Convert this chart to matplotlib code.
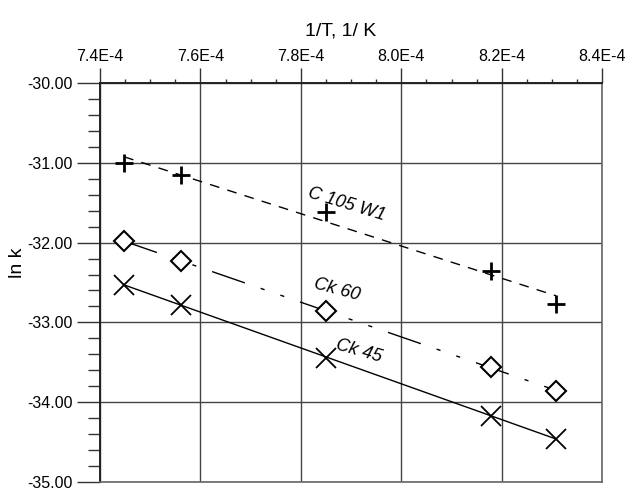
import matplotlib.pyplot as plt
import numpy as np
from matplotlib.ticker import MultipleLocator, FormatStrFormatter

plt.rcParams['font.family'] = ['Liberation Sans', 'DejaVu Sans']

# 1/T values (units of 1E-4 1/K) and ln k for each sample
inv_t = [7.448, 7.561, 7.850, 8.179, 8.308]
lnk_c105w1 = [-31.00, -31.15, -31.62, -32.35, -32.77]
lnk_ck60 = [-31.98, -32.23, -32.86, -33.56, -33.86]
lnk_ck45 = [-32.53, -32.78, -33.44, -34.17, -34.46]
series_names = ["C 105 W1", "Ck 60", "Ck 45"]
x_ticks = [7.4, 7.6, 7.8, 8.0, 8.2, 8.4]

fig = plt.figure(figsize=(6.27, 4.92), dpi=100)
ax = fig.add_axes([0.1595, 0.0203, 0.8011, 0.8110])

x = np.array(inv_t) * 1e-4
styles = [
    dict(marker='+', ms=13, mew=2.0, ls=(0, (7, 6)), lw=1.0),
    dict(marker='D', ms=10, mew=1.5, ls=(0, (25, 12, 3, 12, 3, 12)), lw=1.0, mfc='white'),
    dict(marker='x', ms=14, mew=1.3, ls='-', lw=1.0),
]
for y, st in zip([lnk_c105w1, lnk_ck60, lnk_ck45], styles):
    k, b = np.polyfit(x, y, 1)
    xf = np.array([x[0], x[-1]])
    ax.plot(xf, k * xf + b, color='black', ls=st['ls'], lw=st['lw'], zorder=2)
    ax.plot(x, y, ls='none', marker=st['marker'], ms=st['ms'], mew=st['mew'],
            mec='black', mfc=st.get('mfc', 'none'), color='black', zorder=3)

# curve labels
lbl = dict(style='italic', fontsize=13, ha='left', va='baseline', rotation_mode='anchor')
ax.text(7.812e-4, -31.43, series_names[0], rotation=-17, **lbl)
ax.text(7.824e-4, -32.57, series_names[1], rotation=-15, **lbl)
ax.text(7.868e-4, -33.33, series_names[2], rotation=-16, **lbl)

ax.set_xlim(7.4e-4, 8.4e-4)
ax.set_ylim(-35, -30)
ax.xaxis.tick_top()
ax.xaxis.set_label_position('top')
ax.set_xticks([v * 1e-4 for v in x_ticks])
ax.set_xticklabels([f"{v:.1f}E-4" for v in x_ticks])
ax.xaxis.set_minor_locator(MultipleLocator(0.05e-4))
ax.yaxis.set_major_locator(MultipleLocator(1))
ax.yaxis.set_minor_locator(MultipleLocator(0.2))
ax.yaxis.set_major_formatter(FormatStrFormatter('%.2f'))

ax.tick_params(axis='x', which='major', direction='out', length=11, width=1, labelsize=11.5,
               pad=3, color='#333333')
ax.tick_params(axis='x', which='minor', direction='out', length=3, width=1, color='#333333')
ax.tick_params(axis='y', which='major', direction='out', length=16.5, width=1, labelsize=11.5,
               pad=3, color='#333333')
ax.tick_params(axis='y', which='minor', direction='out', length=8.5, width=1, color='#333333')

ax.grid(True, which='major', color='#444444', lw=1.0)
for name, s in ax.spines.items():
    s.set_color('#222222' if name in ('top', 'left') else '#666666')
    s.set_linewidth(1.4 if name in ('top', 'left') else 1.2)

ax.set_xlabel("1/T, 1/ K", fontsize=14)
ax.xaxis.set_label_coords(0.48, 1.0 + 47 / 399)
ax.set_ylabel("ln k", fontsize=14)
ax.yaxis.set_label_coords(-74 / 502, 0.55)

fig.savefig("out.png", dpi=100)
